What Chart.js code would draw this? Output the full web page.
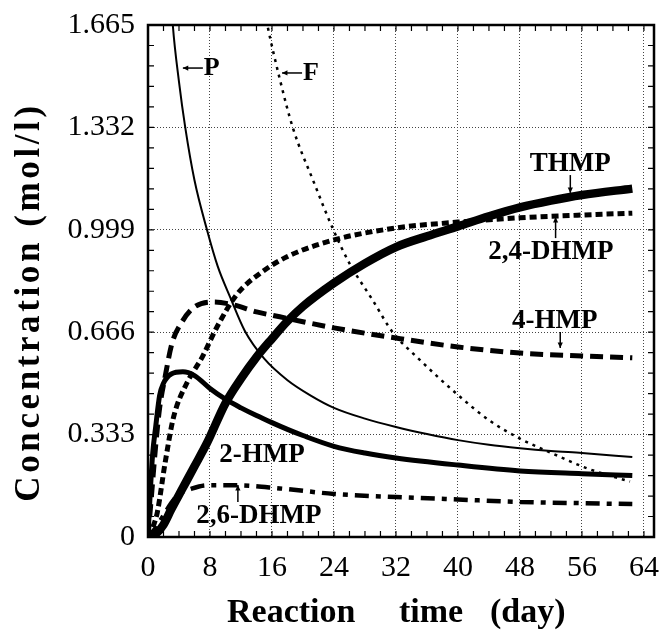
<!DOCTYPE html>
<html>
<head>
<meta charset="utf-8">
<script src="https://cdn.jsdelivr.net/npm/chart.js@4"></script>
<style>
  html, body { margin: 0; padding: 0; background: #fff; }
  #wrap { width: 662px; height: 633px; }
</style>
</head>
<body>
<div id="wrap"><canvas id="chart"></canvas></div>
<script>
const SERIF = "'Liberation Serif', 'Times New Roman', serif";

// axis ticks
const xTicks = [0, 8, 16, 24, 32, 40, 48, 56, 64];
const yTicks = [0, 0.333, 0.666, 0.999, 1.332, 1.665];
const yTickLabels = ['0', '0.333', '0.666', '0.999', '1.332', '1.665'];

// P
const pDays = [1.5, 2.5, 3.2, 4, 4.8, 6, 7.6, 9, 10.6, 12.5, 15, 18, 21, 24, 28, 32, 36, 40, 44, 48, 52, 56, 62.5];
const pConc = [2.6, 1.95, 1.665, 1.48, 1.333, 1.16, 1.0, 0.88, 0.78, 0.67, 0.58, 0.51, 0.46, 0.42, 0.385, 0.358, 0.335, 0.315, 0.30, 0.289, 0.28, 0.273, 0.26];
// F
const fDays = [12, 14, 15.4, 17, 18.7, 21.3, 23.9, 26, 29, 31.6, 34.7, 40, 44, 48, 52.8, 56.6, 62.2];
const fConc = [2.3, 1.85, 1.665, 1.49, 1.33, 1.16, 1.0, 0.89, 0.77, 0.665, 0.585, 0.462, 0.38, 0.32, 0.265, 0.224, 0.18];
// 2-HMP
const hmp2Days = [0, 0.3, 0.6, 1, 1.5, 2, 3, 4.5, 6, 8, 10, 12, 14, 16, 18, 20, 24, 28, 32, 40, 48, 56, 62.5];
const hmp2Conc = [0, 0.15, 0.27, 0.36, 0.46, 0.5, 0.53, 0.537, 0.525, 0.483, 0.448, 0.42, 0.395, 0.372, 0.35, 0.33, 0.295, 0.273, 0.257, 0.234, 0.215, 0.206, 0.2];
// 4-HMP
const hmp4Days = [0, 0.5, 1, 1.5, 2.2, 3.1, 4.4, 6, 8.5, 11, 14, 17, 20, 24, 32, 40, 48, 56, 62.5];
const hmp4Conc = [0, 0.15, 0.3, 0.42, 0.52, 0.63, 0.70, 0.748, 0.764, 0.755, 0.732, 0.716, 0.70, 0.68, 0.647, 0.618, 0.598, 0.589, 0.583];
// 2,4-DHMP
const dhmp24Days = [0, 0.6, 1.2, 2.2, 3.3, 5, 7, 8.9, 11.5, 14.5, 18, 24, 32, 40, 48, 56, 62.5];
const dhmp24Conc = [0, 0.03, 0.08, 0.24, 0.39, 0.5, 0.585, 0.683, 0.79, 0.858, 0.912, 0.966, 1.005, 1.024, 1.038, 1.047, 1.053];
// 2,6-DHMP
const dhmp26Days = [0, 1, 2, 3, 4, 5.4, 7.6, 11.5, 17, 24, 32, 40, 48, 56, 62.5];
const dhmp26Conc = [0, 0.03, 0.07, 0.11, 0.14, 0.155, 0.168, 0.168, 0.158, 0.14, 0.13, 0.122, 0.114, 0.11, 0.107];
// THMP
const thmpDays = [0, 1, 2, 3, 4.5, 6, 7.6, 10, 12, 14, 16, 18, 20, 24, 28, 32, 36, 40, 44, 48, 52, 56, 62.5];
const thmpConc = [0, 0.01, 0.04, 0.09, 0.16, 0.23, 0.305, 0.435, 0.515, 0.585, 0.645, 0.702, 0.75, 0.826, 0.89, 0.943, 0.978, 1.01, 1.043, 1.072, 1.094, 1.112, 1.133];

// curve labels with arrows (day, conc)
const labelText = ['THMP', '2,4-DHMP', '4-HMP', '2-HMP', '2,6-DHMP'];
const labelDay = [54.5, 52, 52.5, 14.7, 14.3];
const labelConc = [1.213, 0.927, 0.702, 0.267, 0.068];
const arrowDay = [54.5, 52.6, 53.2, null, 11.6];
const arrowFrom = [1.177, 0.972, 0.667, null, 0.114];
const arrowTo = [1.119, 1.04, 0.615, null, 0.169];
// left-pointing labels
const sideText = ['P', 'F'];
const sideDay = [4.5, 17.3];
const sideConc = [1.525, 1.509];

const toXY = (xs, ys) => xs.map((x, i) => ({ x: x, y: ys[i] }));

function series(days, conc, width, dash) {
    return {
        data: toXY(days, conc),
        borderColor: '#000',
        borderWidth: width,
        borderDash: dash,
        pointRadius: 0,
        fill: false,
        clip: 0,
        cubicInterpolationMode: 'monotone'
    };
}

function arrow(ctx, x1, y1, x2, y2) {
    const a = Math.atan2(y2 - y1, x2 - x1);
    ctx.beginPath();
    ctx.moveTo(x1, y1);
    ctx.lineTo(x2, y2);
    ctx.stroke();
    ctx.beginPath();
    ctx.moveTo(x2, y2);
    ctx.lineTo(x2 - 6 * Math.cos(a - 0.45), y2 - 6 * Math.sin(a - 0.45));
    ctx.lineTo(x2 - 6 * Math.cos(a + 0.45), y2 - 6 * Math.sin(a + 0.45));
    ctx.closePath();
    ctx.fill();
}

const decor = {
    id: 'decor',
    afterDraw(chart) {
        const { ctx, chartArea: area, scales: { x, y } } = chart;
        ctx.save();
        ctx.strokeStyle = '#000';
        ctx.fillStyle = '#000';

        // small inner ticks
        ctx.lineWidth = 1.2;
        ctx.beginPath();
        for (let d = 0; d <= 64; d += 2) {
            const px = x.getPixelForValue(d);
            ctx.moveTo(px, area.bottom); ctx.lineTo(px, area.bottom - 6);
            ctx.moveTo(px, area.top); ctx.lineTo(px, area.top + 6);
        }
        for (let i = 0; i <= 25; i++) {
            const py = y.getPixelForValue(i * 0.0666);
            ctx.moveTo(area.left, py); ctx.lineTo(area.left + 6, py);
            ctx.moveTo(area.right, py); ctx.lineTo(area.right - 6, py);
        }
        ctx.stroke();

        // frame
        ctx.lineWidth = 2.5;
        ctx.strokeRect(area.left, area.top, area.right - area.left, area.bottom - area.top);

        // curve labels
        ctx.font = 'bold 27px ' + SERIF;
        ctx.textAlign = 'center';
        ctx.textBaseline = 'middle';
        ctx.lineWidth = 1.5;
        labelText.forEach((t, i) => {
            ctx.fillText(t, x.getPixelForValue(labelDay[i]), y.getPixelForValue(labelConc[i]));
            if (arrowDay[i] !== null) {
                const ax = x.getPixelForValue(arrowDay[i]);
                arrow(ctx, ax, y.getPixelForValue(arrowFrom[i]), ax, y.getPixelForValue(arrowTo[i]));
            }
        });
        ctx.font = 'bold 26px ' + SERIF;
        ctx.textAlign = 'left';
        sideText.forEach((t, i) => {
            const sx = x.getPixelForValue(sideDay[i]);
            const sy = y.getPixelForValue(sideConc[i]);
            arrow(ctx, sx + 20, sy, sx, sy);
            ctx.fillText(t, sx + 21, sy);
        });

        // axis titles
        ctx.font = 'bold 34px ' + SERIF;
        ctx.textBaseline = 'alphabetic';
        ctx.textAlign = 'left';
        ctx.fillText('Reaction', 227, 622);
        ctx.fillText('time', 399, 622);
        ctx.fillText('(day)', 490, 622);

        ctx.translate(39, 302);
        ctx.rotate(-Math.PI / 2);
        ctx.font = 'bold 35px ' + SERIF;
        ctx.textAlign = 'center';
        if ('letterSpacing' in ctx) ctx.letterSpacing = '3.6px';
        ctx.fillText('Concentration (mol/l)', 0, 0);
        ctx.restore();
    }
};

const tickFont = { family: SERIF, size: 30 };

new Chart(document.getElementById('chart'), {
    type: 'line',
    data: {
        datasets: [
            series(pDays, pConc, 2),
            series(fDays, fConc, 2.5, [3, 5]),
            series(dhmp26Days, dhmp26Conc, 4.5, [14, 7, 5, 7]),
            series(hmp4Days, hmp4Conc, 5, [13, 7]),
            series(dhmp24Days, dhmp24Conc, 5, [7, 4]),
            series(hmp2Days, hmp2Conc, 5),
            series(thmpDays, thmpConc, 8.5)
        ]
    },
    options: {
        responsive: true,
        maintainAspectRatio: false,
        animation: false,
        layout: { padding: { top: 25, right: 8, left: 0, bottom: 0 } },
        plugins: { legend: { display: false }, tooltip: { enabled: false } },
        scales: {
            x: {
                type: 'linear',
                min: 0,
                max: 65.3,
                afterBuildTicks: s => { s.ticks = xTicks.map(v => ({ value: v })); },
                afterFit: s => { s.height = 96; s.paddingLeft = 0; s.paddingRight = 0; },
                grid: { color: '#444', lineWidth: 1, drawTicks: false },
                border: { display: false, dash: [1, 2] },
                ticks: { font: tickFont, color: '#000', padding: 13, maxRotation: 0, autoSkip: false }
            },
            y: {
                type: 'linear',
                min: 0,
                max: 1.665,
                afterBuildTicks: s => { s.ticks = yTicks.map(v => ({ value: v })); },
                afterFit: s => { s.width = 148; s.paddingTop = 0; s.paddingBottom = 0; },
                grid: { color: '#444', lineWidth: 1, drawTicks: false },
                border: { display: false, dash: [1, 2] },
                ticks: {
                    font: tickFont, color: '#000', padding: 13, autoSkip: false,
                    callback: (v, i) => yTickLabels[i]
                }
            }
        }
    },
    plugins: [decor]
});
</script>
</body>
</html>
